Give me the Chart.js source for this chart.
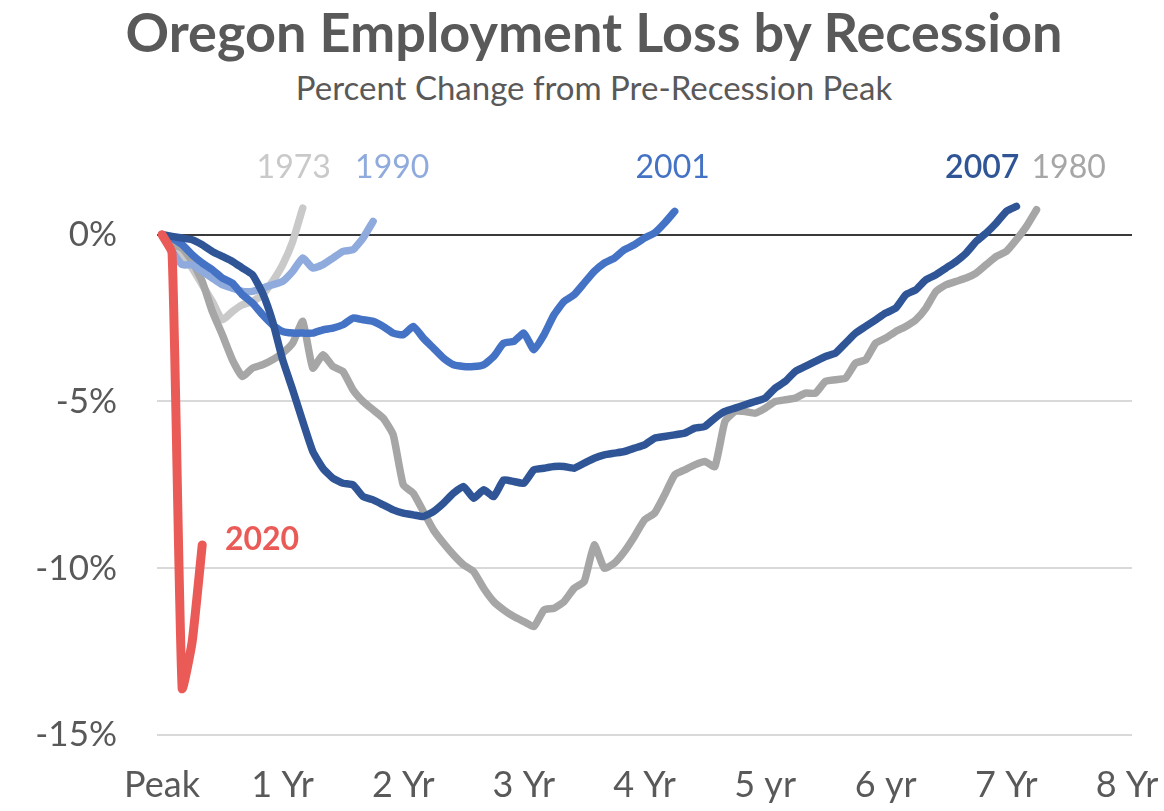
<!DOCTYPE html>
<html>
<head>
<meta charset="utf-8">
<script src="https://cdn.jsdelivr.net/npm/chart.js@4.4.1/dist/chart.umd.min.js"></script>
<style>
  html, body { margin: 0; padding: 0; background: #fff; }
  body { width: 1164px; height: 811px; position: relative; overflow: hidden; font-family: Lato, "Open Sans", sans-serif; }
  #title { position: absolute; left: 12px; width: 1164px; top: 0px; text-align: center;
           font-size: 54px; font-weight: bold; color: #595959; line-height: 64px; }
  #subtitle { position: absolute; left: 12px; width: 1164px; top: 67px; text-align: center;
              font-size: 33px; color: #595959; line-height: 40px; }
  #wrap { position: absolute; left: 0; top: 0; width: 1164px; height: 811px; }
</style>
</head>
<body>
<div id="title">Oregon Employment Loss by Recession</div>
<div id="subtitle">Percent Change from Pre-Recession Peak</div>
<div id="wrap"><canvas id="chart" width="1164" height="811"></canvas></div>
<script>
// months after the pre-recession peak (index = month), values in percent
const xTickLabels = ['Peak', '1 Yr', '2 Yr', '3 Yr', '4 Yr', '5 yr', '6 yr', '7 Yr', '8 Yr'];
const yTicks = [0, -5, -10, -15];

const s1973 = [0, -0.2, -0.6, -1.0, -1.5, -2.0, -2.55, -2.3, -2.1, -2.0, -1.8, -1.4, -0.9, -0.2, 0.8];

const s1980 = [0, -0.3, -0.4, -0.8, -1.4, -2.3, -3.0, -3.75, -4.25, -4.0, -3.9, -3.75, -3.55, -3.25, -2.6,
  -4.0, -3.6, -3.95, -4.1, -4.65, -5.0, -5.25, -5.5, -6.0, -7.5, -7.75, -8.3, -8.85, -9.25, -9.6,
  -9.9, -10.1, -10.6, -11.0, -11.25, -11.45, -11.6, -11.75, -11.25, -11.2, -11.0, -10.6, -10.4, -9.3, -10.0,
  -9.85, -9.5, -9.05, -8.55, -8.35, -7.8, -7.2, -7.05, -6.9, -6.8, -6.95, -5.6, -5.3, -5.3, -5.35,
  -5.2, -5.0, -4.95, -4.9, -4.75, -4.75, -4.4, -4.35, -4.3, -3.85, -3.75, -3.25, -3.1, -2.9, -2.75,
  -2.55, -2.2, -1.7, -1.5, -1.4, -1.3, -1.15, -0.9, -0.65, -0.5, -0.15, 0.25, 0.75];

const s1990 = [0, -0.5, -0.9, -0.9, -1.1, -1.3, -1.5, -1.6, -1.7, -1.7, -1.6, -1.5, -1.4, -1.1, -0.7,
  -1.0, -0.9, -0.7, -0.5, -0.45, -0.1, 0.4];

const s2001 = [0, -0.1, -0.3, -0.6, -0.85, -1.05, -1.3, -1.45, -1.8, -2.05, -2.4, -2.7, -2.9, -2.95, -2.95,
  -2.95, -2.85, -2.8, -2.7, -2.5, -2.55, -2.6, -2.75, -2.95, -3.0, -2.75, -3.1, -3.4, -3.7, -3.9,
  -3.95, -3.95, -3.9, -3.65, -3.25, -3.2, -2.95, -3.45, -3.0, -2.4, -2.0, -1.8, -1.45, -1.1, -0.85,
  -0.7, -0.45, -0.3, -0.1, 0.05, 0.35, 0.7];

const s2007 = [0, -0.05, -0.1, -0.15, -0.3, -0.5, -0.65, -0.8, -1.0, -1.2, -1.75, -2.6, -3.75, -4.65, -5.6,
  -6.5, -7.0, -7.3, -7.45, -7.5, -7.85, -7.95, -8.1, -8.25, -8.35, -8.4, -8.45, -8.3, -8.05, -7.75,
  -7.55, -7.9, -7.65, -7.85, -7.35, -7.4, -7.45, -7.05, -7.0, -6.95, -6.95, -7.0, -6.85, -6.7, -6.6,
  -6.55, -6.5, -6.4, -6.3, -6.1, -6.05, -6.0, -5.95, -5.8, -5.75, -5.5, -5.3, -5.2, -5.1, -5.0,
  -4.9, -4.6, -4.4, -4.1, -3.95, -3.8, -3.65, -3.55, -3.25, -2.95, -2.75, -2.55, -2.35, -2.2, -1.8,
  -1.65, -1.35, -1.2, -1.0, -0.8, -0.55, -0.2, 0.05, 0.35, 0.7, 0.85];

const s2020 = [0, -0.55, -13.6, -12.2, -9.3];

const toPoints = arr => arr.map((v, i) => ({ x: i, y: v }));

const series = [
  { label: '2020', data: s2020, color: '#ea5b58', width: 9 },
  { label: '2007', data: s2007, color: '#2f5597', width: 7.5 },
  { label: '2001', data: s2001, color: '#4472c4', width: 7.5 },
  { label: '1990', data: s1990, color: '#8faadc', width: 7.5 },
  { label: '1980', data: s1980, color: '#a6a6a6', width: 7.5 },
  { label: '1973', data: s1973, color: '#c9c9c9', width: 7.5 }
];

// text labels next to each line, anchored in data units
const lineLabels = [
  { text: '1973', x: 13.1, y: 2.0, color: '#c9c9c9', weight: 'normal' },
  { text: '1990', x: 22.9, y: 2.0, color: '#8faadc', weight: 'normal' },
  { text: '2001', x: 50.8, y: 2.0, color: '#4472c4', weight: 'normal' },
  { text: '2007', x: 81.6, y: 2.0, color: '#2f5597', weight: '600' },
  { text: '1980', x: 90.2, y: 2.0, color: '#a6a6a6', weight: 'normal' },
  { text: '2020', x: 9.95, y: -9.15, color: '#ea5b58', weight: 'bold' }
];

const labelPlugin = {
  id: 'lineLabels',
  afterDatasetsDraw(chart) {
    const { ctx, scales } = chart;
    ctx.save();
    ctx.textAlign = 'center';
    ctx.textBaseline = 'middle';
    lineLabels.forEach(l => {
      ctx.font = l.weight + ' 32px Lato, "Open Sans", sans-serif';
      ctx.fillStyle = l.color;
      ctx.fillText(l.text, scales.x.getPixelForValue(l.x), scales.y.getPixelForValue(l.y));
    });
    ctx.restore();
  }
};

new Chart(document.getElementById('chart'), {
  type: 'line',
  data: {
    datasets: series.map(s => ({
      label: s.label,
      data: toPoints(s.data),
      borderColor: s.color,
      borderWidth: s.width,
      pointRadius: 0,
      tension: 0.15,
      borderCapStyle: 'round',
      borderJoinStyle: 'round',
      fill: false
    }))
  },
  options: {
    responsive: false,
    animation: false,
    layout: { padding: { top: 158, right: 32, bottom: 0, left: 0 } },
    plugins: {
      legend: { display: false },
      tooltip: { enabled: false }
    },
    scales: {
      x: {
        type: 'linear',
        min: -0.5,
        max: 96.5,
        afterBuildTicks: axis => { axis.ticks = xTickLabels.map((t, i) => ({ value: i * 12 })); },
        afterFit: axis => { axis.height = 76; axis.paddingLeft = 0; axis.paddingRight = 0; },
        grid: { display: false, drawTicks: false },
        border: { display: false },
        ticks: {
          autoSkip: false,
          maxRotation: 0,
          padding: 29,
          color: '#595959',
          font: { family: 'Lato, "Open Sans", sans-serif', size: 36 },
          callback: v => xTickLabels[Math.round(v / 12)]
        }
      },
      y: {
        min: -15,
        max: 2.3,
        afterBuildTicks: axis => { axis.ticks = yTicks.map(v => ({ value: v })); },
        afterFit: axis => { axis.width = 157; },
        grid: {
          drawTicks: false,
          color: c => (c.tick && c.tick.value === 0) ? '#3a3a3a' : '#d9d9d9',
          lineWidth: 2
        },
        border: { display: false },
        ticks: {
          padding: 40,
          color: '#595959',
          font: { family: 'Lato, "Open Sans", sans-serif', size: 35 },
          callback: v => v + '%'
        }
      }
    }
  },
  plugins: [labelPlugin]
});
</script>
</body>
</html>
